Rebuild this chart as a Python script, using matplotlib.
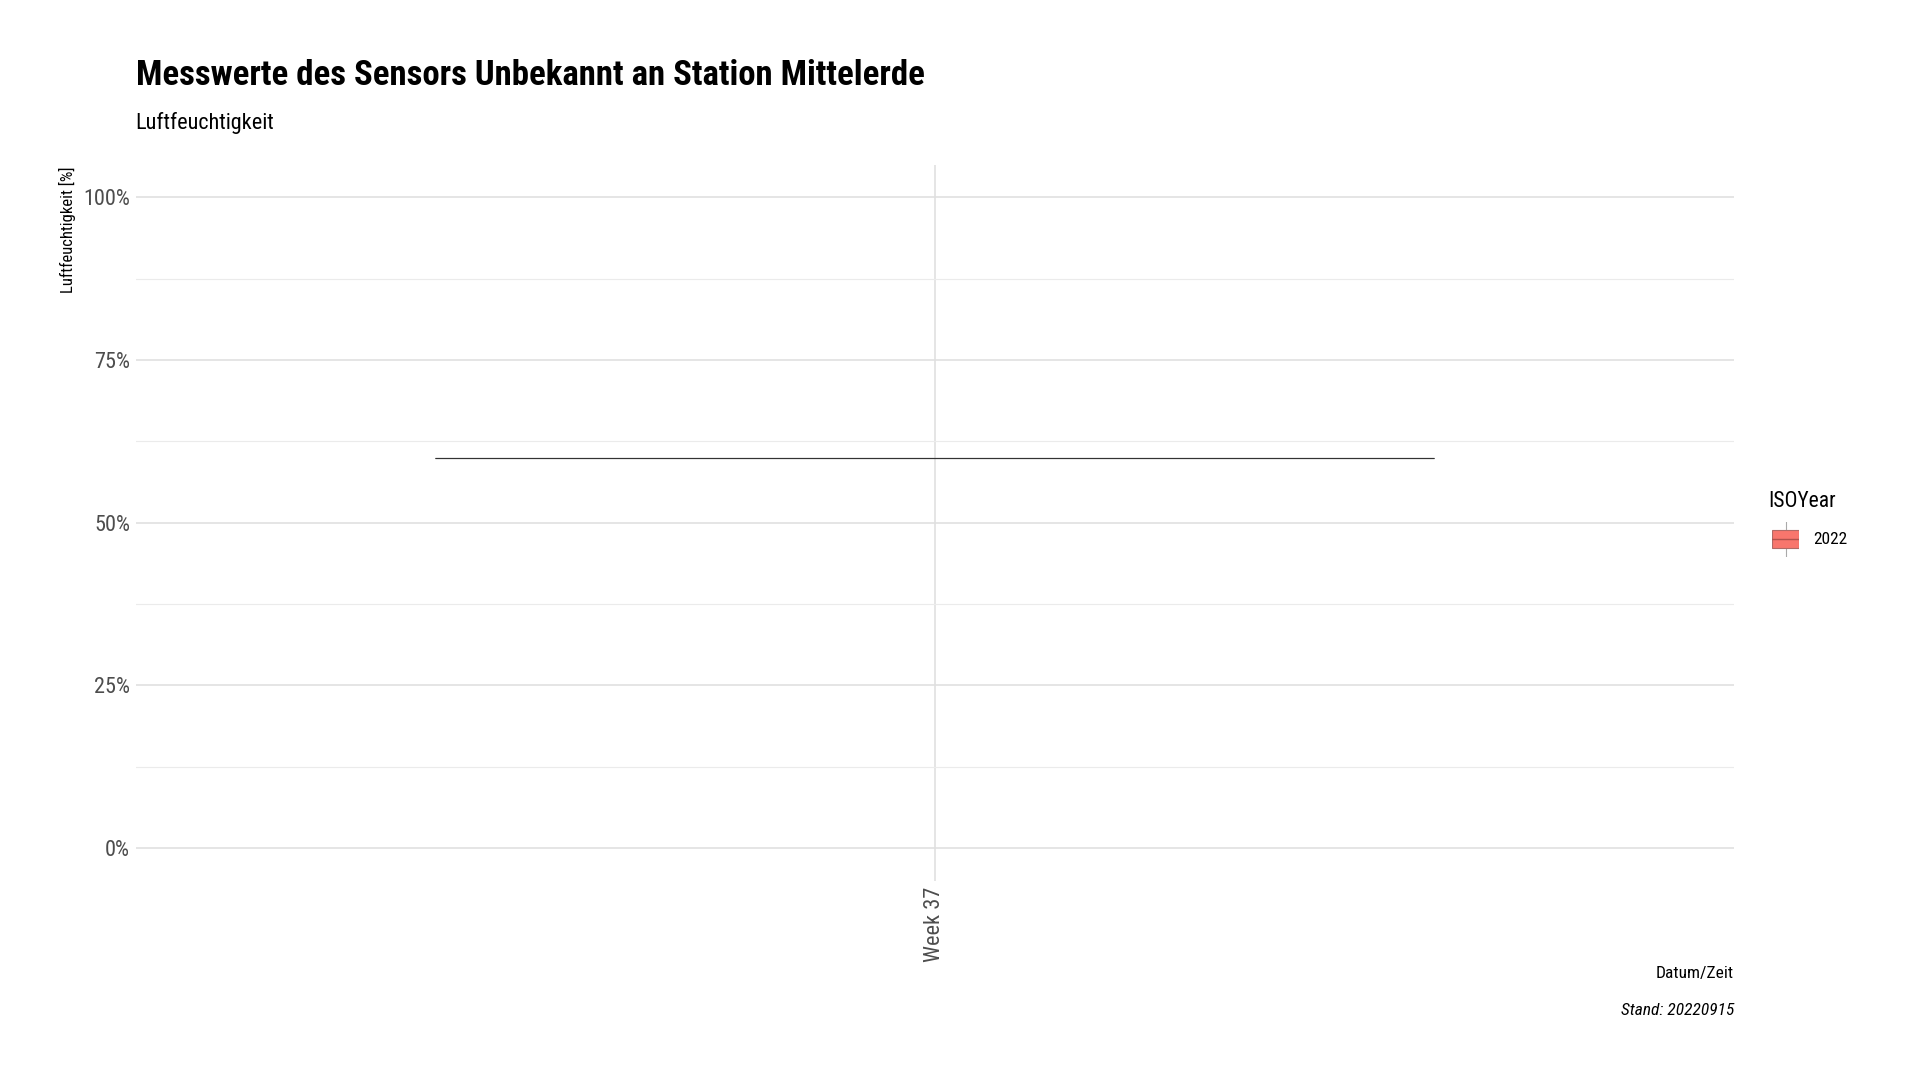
import matplotlib.pyplot as plt
from matplotlib.patches import Rectangle

# Data: one week, all humidity readings identical (~60 %)
weeks = ["Week 37"]
humidity = [[0.60, 0.60, 0.60, 0.60]]
iso_years = ["2022"]
year_colors = ["#F8766D"]

y_ticks = [0, 0.25, 0.5, 0.75, 1.0]
y_tick_labels = ["0%", "25%", "50%", "75%", "100%"]
y_minor = [0.125, 0.375, 0.625, 0.875]

FONT = ["Liberation Sans Narrow", "Roboto Condensed", "Roboto", "DejaVu Sans"]
plt.rcParams["font.family"] = FONT

LEFT, RIGHT = 0.0707, 0.9031


def main():
    fig = plt.figure(figsize=(19.2, 10.8), dpi=100)
    ax = fig.add_axes([LEFT, 0.1845, RIGHT - LEFT, 0.663])

    # Boxplot per week
    positions = list(range(len(weeks)))
    bp = ax.boxplot(humidity, positions=positions, widths=0.75, patch_artist=True,
                    showfliers=False, manage_ticks=False, zorder=3)
    for box, col in zip(bp["boxes"], year_colors):
        box.set_facecolor(col)
        box.set_edgecolor("#333333")
        box.set_linewidth(0.8)
    for part in ("medians", "whiskers", "caps"):
        for line in bp[part]:
            line.set_color("#333333")
            line.set_linewidth(0.8)
    for cap in bp["caps"]:
        cap.set_visible(False)

    ax.set_xlim(-0.6, len(weeks) - 0.4)
    ax.set_ylim(-0.05, 1.05)
    ax.set_xticks(positions)
    ax.set_xticklabels(weeks, rotation=90, fontsize=16, color="#4D4D4D")
    ax.set_yticks(y_ticks)
    ax.set_yticklabels(y_tick_labels, fontsize=16, color="#4D4D4D")
    ax.set_yticks(y_minor, minor=True)
    ax.tick_params(axis="both", which="both", length=0, pad=4)

    ax.grid(True, which="major", color="#E0E0E0", linewidth=1.2, zorder=0)
    ax.grid(True, which="minor", axis="y", color="#EBEBEB", linewidth=0.8, zorder=0)
    for s in ax.spines.values():
        s.set_visible(False)

    # Titles and captions
    fig.text(LEFT, 0.930, "Messwerte des Sensors Unbekannt an Station Mittelerde",
             fontsize=25, fontweight="bold", va="center", ha="left")
    fig.text(LEFT, 0.886, "Luftfeuchtigkeit", fontsize=16, va="center", ha="left")
    fig.text(0.035, 0.846, "Luftfeuchtigkeit [%]", fontsize=12, rotation=90,
             va="top", ha="center")
    fig.text(RIGHT, 0.099, "Datum/Zeit", fontsize=12.5, va="center", ha="right")
    fig.text(RIGHT, 0.064, "Stand: 20220915", fontsize=12.5, style="italic",
             va="center", ha="right")

    # Legend
    fig.text(0.921, 0.536, "ISOYear", fontsize=15.5, va="center", ha="left")
    for i, (yr, col) in enumerate(zip(iso_years, year_colors)):
        kx = fig.add_axes([0.923, 0.4845 - i * 0.03, 0.014, 0.032])
        kx.set_xlim(0, 1)
        kx.set_ylim(0, 1)
        kx.axis("off")
        kx.plot([0.5, 0.5], [0.0, 1.0], color="#AAAAAA", lw=0.8)
        kx.add_patch(Rectangle((0.0, 0.24), 1.0, 0.52, facecolor=col,
                               edgecolor="#B06A66", lw=0.8, zorder=2))
        kx.plot([0.0, 1.0], [0.5, 0.5], color="#B0524C", lw=1.0, zorder=3)
        fig.text(0.9446, 0.500 - i * 0.03, yr, fontsize=12.5, va="center", ha="left")

    fig.savefig("out.png", dpi=100, facecolor="white")


if __name__ == "__main__":
    main()
